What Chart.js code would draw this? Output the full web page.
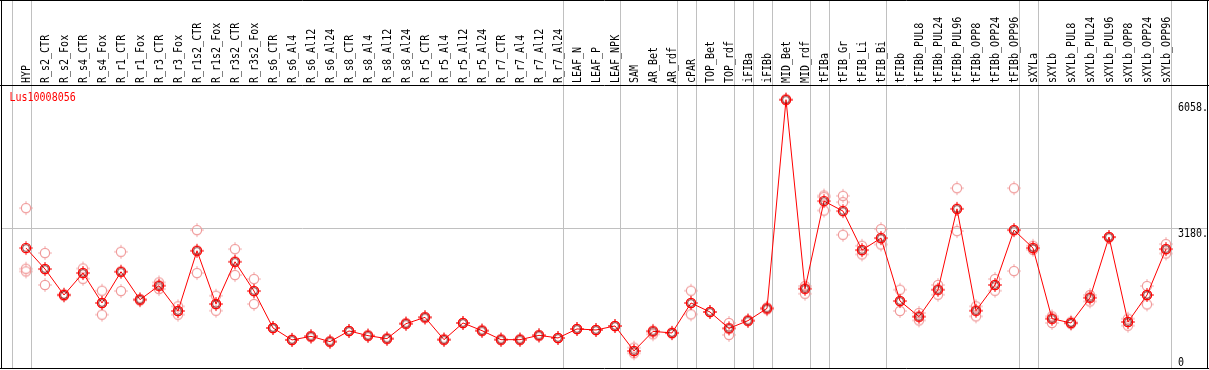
<!DOCTYPE html>
<html><head><meta charset="utf-8">
<script src="https://cdn.jsdelivr.net/npm/chart.js@4"></script>
<style>html,body{margin:0;padding:0;background:#fff;overflow:hidden}#wrap{width:1209px;height:370px;position:relative}canvas{display:block}</style>
</head><body><div id="wrap"><canvas id="c" width="1209" height="370"></canvas></div>
<script>
const categories = ['HYP','R_s2_CTR','R_s2_Fox','R_s4_CTR','R_s4_Fox','R_r1_CTR','R_r1_Fox','R_r3_CTR','R_r3_Fox','R_r1s2_CTR','R_r1s2_Fox','R_r3s2_CTR','R_r3s2_Fox','R_s6_CTR','R_s6_Al4','R_s6_Al12','R_s6_Al24','R_s8_CTR','R_s8_Al4','R_s8_Al12','R_s8_Al24','R_r5_CTR','R_r5_Al4','R_r5_Al12','R_r5_Al24','R_r7_CTR','R_r7_Al4','R_r7_Al12','R_r7_Al24','LEAF_N','LEAF_P','LEAF_NPK','SAM','AR_Bet','AR_rdf','cPAR','TOP_Bet','TOP_rdf','iFIBa','iFIBb','MID_Bet','MID_rdf','tFIBa','tFIB_Gr','tFIB_Li','tFIB_Bi','tFIBb','tFIBb_PUL8','tFIBb_PUL24','tFIBb_PUL96','tFIBb_OPP8','tFIBb_OPP24','tFIBb_OPP96','sXYLa','sXYLb','sXYLb_PUL8','sXYLb_PUL24','sXYLb_PUL96','sXYLb_OPP8','sXYLb_OPP24','sXYLb_OPP96'];
const meanValues = [2733,2263,1681,2173,1502,2202,1576,1889,1323,2672,1479,2426,1770,942,674,754,636,875,770,703,1038,1180,680,1054,882,680,680,777,718,920,897,987,427,866,830,1502,1300,933,1106,1381,6058,1822,3785,3561,2688,2956,1546,1195,1799,3612,1329,1905,3135,2733,1150,1054,1620,2979,1076,1681,2710];
const rep1 = [3628,2621,1700,2276,1777,2650,1590,1963,1426,3135,1665,2710,2039,942,674,754,636,875,770,703,1038,1180,680,1054,882,680,680,777,718,920,897,987,501,880,840,1777,1300,1054,1106,1400,6058,1882,3910,3903,2784,3158,1799,1278,1905,4075,1426,2039,4075,2784,1202,1080,1681,2979,1150,1882,2822];
const rep2 = [2270,2263,1681,2173,1502,2202,1576,1889,1323,2672,1479,2426,1770,942,674,754,636,875,770,703,1038,1180,680,1054,882,680,680,777,718,920,897,987,427,866,830,1502,1300,933,1106,1381,6058,1822,3874,3762,2688,2956,1546,1195,1799,3612,1329,1905,3135,2733,1150,1054,1620,2979,1076,1681,2710];
const rep3 = [2210,1905,1660,2045,1240,1770,1560,1815,1240,2173,1329,2128,1479,942,674,754,636,875,770,703,1038,1180,680,1054,882,680,680,777,718,920,897,987,374,800,820,1247,1300,786,1106,1360,6058,1710,3574,3030,2590,2813,1323,1112,1687,3113,1202,1777,2218,2695,1054,1030,1538,2979,994,1470,2612];
const yTickValues = [0, 3180, 6058];
const yTickLabels = ['0', '3180.', '6058.'];
const groupEnds = [-1,0,28,31,34,35,37,38,39,41,42,45,52,53,60];
const geneLabel = 'Lus10008056';

const FONT = '12px "DejaVu Sans Mono"';
function drawText(ctx, text, x, y, rotate, color){
  ctx.save();
  ctx.translate(x, y);
  if (rotate) ctx.rotate(-Math.PI/2);
  ctx.scale(0.833, 1);
  ctx.fillStyle = color;
  ctx.font = FONT;
  ctx.textAlign = 'left';
  ctx.textBaseline = 'alphabetic';
  ctx.fillText(text, 0, 0);
  ctx.restore();
}

function makeMarker(main){
  const c = document.createElement('canvas');
  c.width = 16; c.height = 16;
  const g = c.getContext('2d');
  const cx = 8, cy = 8;
  const col = main ? '#ff0000' : '#f09a9a';
  g.strokeStyle = col;
  g.lineWidth = main ? 1.3 : 1.2;
  g.beginPath(); g.arc(cx, cy, 4.6, 0, Math.PI*2); g.stroke();
  if (main){
    g.strokeStyle = '#700000';
    g.lineWidth = 0.8;
    g.beginPath(); g.arc(cx, cy, 3.4, 0, Math.PI*2); g.stroke();
  }
  g.strokeStyle = col; g.lineWidth = 1;
  g.beginPath();
  g.moveTo(cx, cy-5.2); g.lineTo(cx, cy-6.8);
  g.moveTo(cx, cy+5.2); g.lineTo(cx, cy+6.8);
  g.moveTo(cx-5.2, cy); g.lineTo(cx-6.8, cy);
  g.moveTo(cx+5.2, cy); g.lineTo(cx+6.8, cy);
  g.stroke();
  return c;
}
const mainMarker = makeMarker(true);
const repMarker = makeMarker(false);

const toPts = arr => arr.map((v, i) => ({x: i, y: v}));

const decor = {
  id: 'decor',
  beforeDraw(chart){
    const ctx = chart.ctx;
    ctx.save();
    ctx.fillStyle = '#fff';
    ctx.fillRect(0, 0, chart.width, chart.height);
    ctx.restore();
  },
  beforeDatasetsDraw(chart){
    const ctx = chart.ctx, xs = chart.scales.x, ys = chart.scales.y;
    ctx.save();
    ctx.strokeStyle = '#c0c0c0';
    ctx.lineWidth = 1;
    ctx.beginPath();
    groupEnds.forEach(i => {
      const px = Math.round(xs.getPixelForValue(i + 0.237)) + 0.5;
      ctx.moveTo(px, 0); ctx.lineTo(px, 369);
    });
    const hy = Math.round(ys.getPixelForValue(3180)) + 0.5;
    ctx.moveTo(1, hy); ctx.lineTo(1207, hy);
    ctx.stroke();
    yTickValues.forEach((v, k) => {
      const py = ys.getPixelForValue(v);
      let base;
      if (v === 0) base = 366;
      else if (k === yTickValues.length - 1) base = py + 11;
      else base = py + 8.5;
      drawText(ctx, yTickLabels[k], 1178, base, false, '#000');
    });
    ctx.restore();
  },
  afterDraw(chart){
    const ctx = chart.ctx, xs = chart.scales.x;
    ctx.save();
    ctx.strokeStyle = '#000';
    ctx.lineWidth = 1;
    ctx.beginPath();
    ctx.moveTo(0, 0.5); ctx.lineTo(1209, 0.5);
    ctx.moveTo(1.5, 0); ctx.lineTo(1.5, 369);
    ctx.moveTo(1207.5, 0); ctx.lineTo(1207.5, 369);
    ctx.moveTo(0, 368.5); ctx.lineTo(1209, 368.5);
    ctx.moveTo(0, 85.5); ctx.lineTo(1209, 85.5);
    ctx.stroke();
    categories.forEach((lab, i) => {
      const px = xs.getPixelForValue(i);
      drawText(ctx, lab, Math.round(px) + 3.5, 83, true, '#000');
    });
    drawText(ctx, geneLabel, 9.5, 100.5, false, '#ff0000');
    ctx.restore();
  }
};

const repDs = arr => ({
  type: 'line', data: toPts(arr), showLine: false,
  pointStyle: repMarker, pointRadius: 5, pointHoverRadius: 5,
  borderColor: '#f09a9a', backgroundColor: 'transparent'
});

new Chart(document.getElementById('c'), {
  type: 'line',
  data: {
    datasets: [
      {
        data: toPts(meanValues), borderColor: '#ff0000', borderWidth: 1,
        pointStyle: mainMarker, pointRadius: 5, pointHoverRadius: 5,
        backgroundColor: 'transparent', tension: 0, fill: false
      },
      repDs(rep1), repDs(rep2), repDs(rep3)
    ]
  },
  options: {
    responsive: false,
    devicePixelRatio: 1,
    animation: false,
    events: [],
    layout: { autoPadding: false, padding: { top: 86, bottom: 0, left: 0, right: 0 } },
    plugins: { legend: { display: false }, tooltip: { enabled: false } },
    scales: {
      x: { type: 'linear', display: false, min: -26/19, max: 1183/19 },
      y: { type: 'linear', display: false, min: 0, max: 6365 }
    }
  },
  plugins: [decor]
});
</script>
</body></html>
